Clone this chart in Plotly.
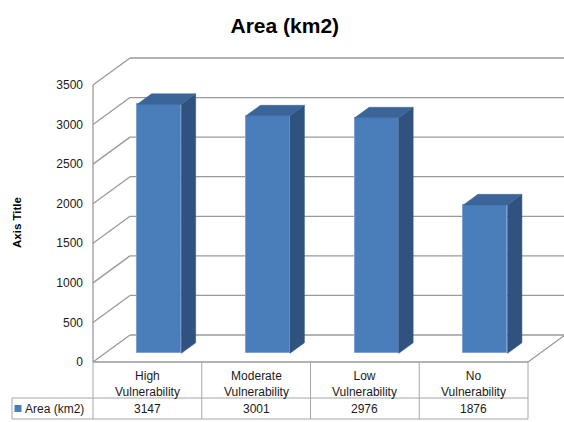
import numpy as np
import plotly.graph_objects as go

# ---- data ----
categories = ["High<br>Vulnerability", "Moderate<br>Vulnerability", "Low<br>Vulnerability", "No<br>Vulnerability"]
values = [3147, 3001, 2976, 1876]
series_name = "Area (km2)"
y_ticks = [0, 500, 1000, 1500, 2000, 2500, 3000, 3500]
title = "Area (km2)"
axis_title = "Axis Title"

# ---- geometry of the pseudo-3D frame (in axis units) ----
W, H = 564, 422
px_cat = 108.75           # px per category on the front plane
px_val = 277 / 3500.0     # px per value unit
x_front_px, y_zero_px = 93, 362
DX = 37 / px_cat          # full depth offset in x units
DY = 27 / px_val          # full depth offset in value units
F0, F1 = 0.32, 0.39       # bar front depth fraction / bar depth fraction
BW = 0.405                # bar width in category units

xr = [-0.5 - x_front_px / px_cat, -0.5 + (W - x_front_px) / px_cat]
yr = [-(H - y_zero_px) / px_val, y_zero_px / px_val]
n = len(values)
idx = np.arange(n)
xl_edge, xr_edge = -0.5, n - 0.5
ymax = y_ticks[-1]

fig = go.Figure()
shapes = []
gc = "#9a9a9a"

# back wall gridlines + left wall diagonals + floor (below traces)
def seg(x0, y0, x1, y1, color=gc, width=1.3):
    return dict(type="line", x0=x0, y0=y0, x1=x1, y1=y1, layer="below",
                line=dict(color=color, width=width))

for t in y_ticks:
    shapes.append(seg(xl_edge, t, xl_edge + DX, t + DY))
    shapes.append(seg(xl_edge + DX, t + DY, xr_edge + DX, t + DY))
shapes.append(seg(xr_edge, 0, xr_edge + DX, DY))
shapes.append(seg(xl_edge, 0, xl_edge, ymax))
shapes.append(seg(xl_edge, 0, xr_edge, 0))

# bars: front faces
b0 = F0 * DY
xc = idx + F0 * DX
fig.add_trace(go.Bar(x=xc, y=values, base=b0, width=BW, name=series_name,
                     marker=dict(color="#4a7ebb", line=dict(color="#7da2d1", width=1)),
                     showlegend=False))
ddx, ddy = F1 * DX, F1 * DY
for i, v in enumerate(values):
    l, r = xc[i] - BW / 2, xc[i] + BW / 2
    # side face
    fig.add_trace(go.Scatter(x=[r, r + ddx, r + ddx, r, r], y=[b0, b0 + ddy, b0 + ddy + v, b0 + v, b0],
                             fill="toself", fillcolor="#30527f", mode="lines",
                             line=dict(color="#30527f", width=0.5), hoverinfo="skip", showlegend=False))
    # top face
    fig.add_trace(go.Scatter(x=[l, r, r + ddx, l + ddx, l], y=[b0 + v, b0 + v, b0 + v + ddy, b0 + v + ddy, b0 + v],
                             fill="toself", fillcolor="#3b6598", mode="lines",
                             line=dict(color="#3b6598", width=0.5), hoverinfo="skip", showlegend=False))

# ---- data table ----
row1 = -36 / px_val
row2 = -57 / px_val
legend_left = -0.5 - (x_front_px - 12) / px_cat
tc = "#a6a6a6"
for k in range(n + 1):
    shapes.append(seg(k - 0.5, 0, k - 0.5, row2, tc, 1))
shapes.append(seg(legend_left, row1, xr_edge, row1, tc, 1))
shapes.append(seg(legend_left, row2, xr_edge, row2, tc, 1))
shapes.append(seg(legend_left, row1, legend_left, row2, tc, 1))
sq = 7 / px_cat
shapes.append(dict(type="rect", x0=legend_left + 2.5 / px_cat, x1=legend_left + 2.5 / px_cat + sq,
                   y0=(row1 + row2) / 2 - 3.5 / px_val, y1=(row1 + row2) / 2 + 3.5 / px_val,
                   fillcolor="#4a7ebb", line=dict(width=0)))

font = "Liberation Sans, Arial, sans-serif"
tfont = dict(family=font, size=12, color="#1a1a1a")
ann = []
for i, c in enumerate(categories):
    ann.append(dict(x=i, y=row1 / 2 - 3.5 / px_val, text=c, showarrow=False, font=tfont,
                    xanchor="center", yanchor="middle"))
    ann.append(dict(x=i, y=(row1 + row2) / 2, text=str(values[i]), showarrow=False,
                    font=tfont, xanchor="center", yanchor="middle"))
ann.append(dict(x=legend_left + 11 / px_cat, y=(row1 + row2) / 2, text=series_name, showarrow=False,
                font=tfont, xanchor="left", yanchor="middle"))
ann.append(dict(xref="paper", yref="paper", x=17 / W, y=1 - 223 / H, text="<b>" + axis_title + "</b>",
                textangle=-90, showarrow=False, font=dict(family=font, size=11.5, color="#000"),
                xanchor="center", yanchor="middle"))

fig.update_layout(
    width=W, height=H, autosize=False,
    margin=dict(l=0, r=0, t=0, b=0),
    paper_bgcolor="white", plot_bgcolor="white",
    title=dict(text="<b>" + title + "</b>", x=0.505, xanchor="center", y=1 - 26 / H, yanchor="middle",
               font=dict(family=font, size=21, color="#000")),
    xaxis=dict(range=xr, visible=False, fixedrange=True),
    yaxis=dict(range=yr, anchor="free", position=x_front_px / W, tickvals=y_ticks,
               ticks="", showgrid=False, zeroline=False, showline=False, ticklabelstandoff=10,
               tickfont=dict(family=font, size=12, color="#1a1a1a"), fixedrange=True),
    shapes=shapes, annotations=ann, bargap=0, showlegend=False,
)

fig.write_html("out.html")
